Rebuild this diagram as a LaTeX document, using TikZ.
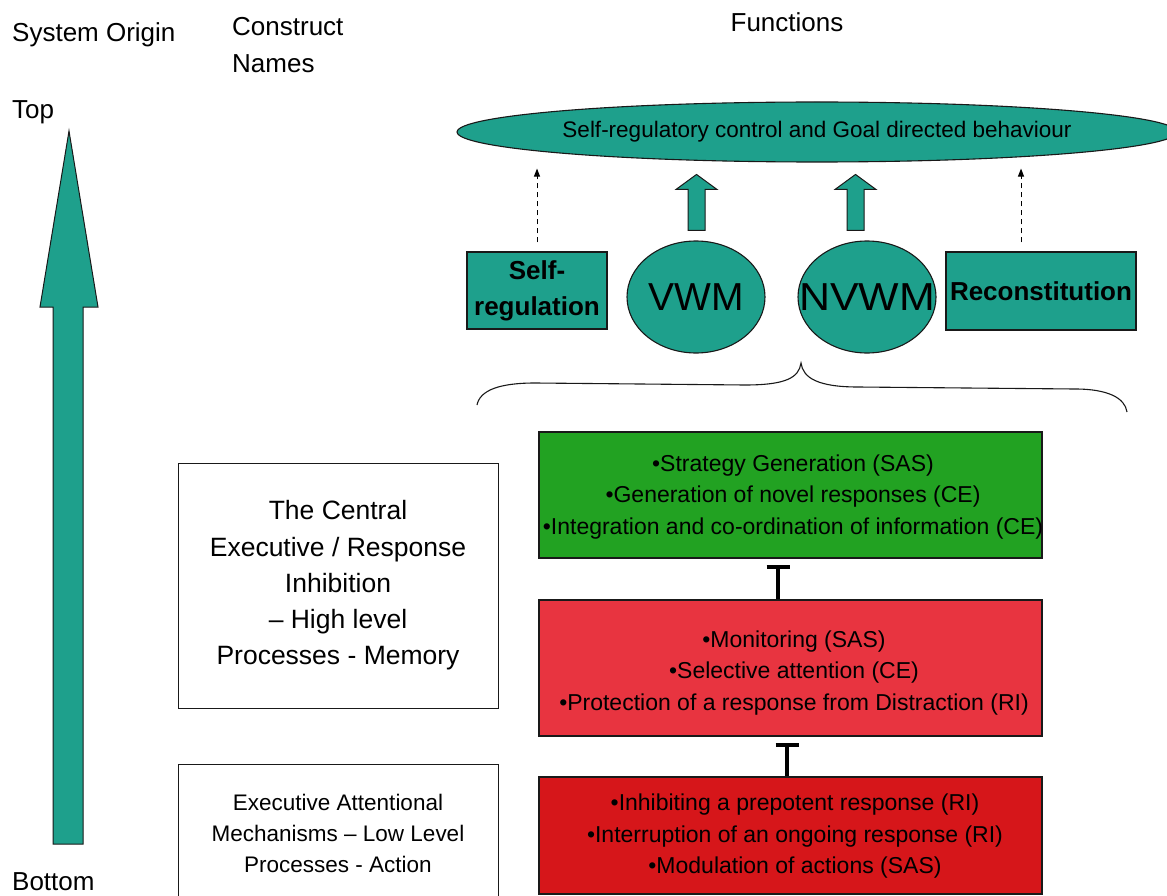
\documentclass[tikz,border=0pt]{standalone}
\usepackage{fontspec}
\setmainfont{Liberation Sans}
\usetikzlibrary{shapes.geometric,arrows.meta,calc}

\definecolor{tealfill}{RGB}{30,160,140}
\definecolor{greenfill}{RGB}{34,162,34}
\definecolor{redfill}{RGB}{232,52,64}
\definecolor{deepred}{RGB}{214,22,26}
\definecolor{edge}{RGB}{25,25,25}

\tikzset{
  fsz/.style={font=\fontsize{#1}{#1}\selectfont},
  heading/.style={font=\fontsize{26}{37}\selectfont, inner sep=0pt},
  funcbox/.style={draw=edge, line width=1.1pt, fill=tealfill, inner sep=0pt,
    font=\fontsize{26}{36}\selectfont\bfseries, align=center},
  memory/.style={ellipse, draw=edge, line width=1.1pt, fill=tealfill, inner sep=0pt,
    minimum width=138pt, minimum height=112pt, font=\fontsize{39}{39}\selectfont},
  procbox/.style={draw=edge, line width=1.1pt, inner sep=0pt, minimum width=503pt},
  proctext/.style={align=center, inner sep=0pt, font=\fontsize{23}{31.5}\selectfont},
  levelbox/.style={draw=edge, line width=0.9pt, fill=white, inner sep=0pt,
    minimum width=320pt},
  blockarrow/.style={draw=edge, line width=1pt, fill=tealfill},
  dasharrow/.style={draw=black, line width=1pt, dash pattern=on 5pt off 4pt,
    -{Triangle[length=8pt,width=6pt]}},
  inhibit/.style={draw=black, line width=3.2pt},
}

\begin{document}
\begin{tikzpicture}[x=1pt,y=-1pt]
  \useasboundingbox (0,0) rectangle (1167,896);

  % column headings
  \node[heading, anchor=west] (origin) at (12,35) {System Origin};
  \node[heading, anchor=north west, align=left] (cnames) at (232,17) {Construct\\Names};
  \node[heading] (functions) at (787,22) {Functions};
  \node[heading, anchor=west] (top) at (12,112) {Top};
  \node[heading, anchor=west] (bottom) at (12,882) {Bottom};

  % vertical bottom-to-top arrow
  \draw[blockarrow] (53,844) -- (53,307) -- (40,307) -- (69,131) -- (98,307)
    -- (83,307) -- (83,844) -- cycle;

  % goal ellipse
  \node[ellipse, draw=edge, line width=1.1pt, fill=tealfill, inner sep=0pt,
    minimum width=712pt, minimum height=60pt, fsz=22.5] (goal) at (817,132)
    {Self-regulatory control and Goal directed behaviour};

  % executive functions
  \node[funcbox, minimum width=140pt, minimum height=77pt] (selfreg) at (537,290.5)
    {Self-\\regulation};
  \node[memory] (vwm) at (696,297) {\makebox[0pt]{VWM}};
  \node[memory] (nvwm) at (867,297) {\makebox[0pt]{\scalebox{1.1}[1]{NVWM}}};
  \node[funcbox, minimum width=190pt, minimum height=78pt] (recon) at (1041,291)
    {Reconstitution};

  % links up to the goal
  \draw[dasharrow, shorten <=9pt, shorten >=6pt]
    (selfreg.north) -- (selfreg.north |- goal.south);
  \draw[dasharrow, shorten <=9pt, shorten >=6pt]
    ([xshift=-20pt]recon.north) -- ([xshift=-20pt]recon.north |- goal.south);
  \draw[blockarrow] ($(vwm.north)+(-8,-10)$) -- ++(0,-41) -- ++(-12,0)
    -- ++(20.5,-15) -- ++(20.5,15) -- ++(-12,0) -- ++(0,41) -- cycle;
  \draw[blockarrow] ($(nvwm.north)+(-20,-10)$) -- ++(0,-41) -- ++(-12,0)
    -- ++(20.5,-15) -- ++(20.5,15) -- ++(-12,0) -- ++(0,41) -- cycle;

  % brace grouping the functions
  \coordinate (bracetip) at (801,363);
  \draw[line width=1.1pt, edge]
    (477,405) .. controls (480,390) and (500,383) .. (535,383)
    -- (745,385) .. controls (785,385) and (799,378) .. (bracetip)
    .. controls (803,378) and (818,387) .. (858,387)
    -- (1075,389) .. controls (1108,389) and (1125,398) .. (1127,412);

  % process levels
  \node[procbox, fill=greenfill, minimum height=126pt] (strategy) at (790.5,495) {};
  \node[proctext] (strategytxt) at (793,497)
    {•Strategy Generation (SAS)\\
     •Generation of novel responses (CE)\\
     •Integration and co-ordination of information (CE)};
  \node[procbox, fill=redfill, minimum height=136pt] (monitor) at (790.5,668) {};
  \node[proctext] (monitortxt) at (794,673)
    {•Monitoring (SAS)\\
     •Selective attention (CE)\\
     •Protection of a response from Distraction (RI)};
  \node[procbox, fill=deepred, minimum height=117pt] (action) at (790.5,835.5) {};
  \node[proctext] (actiontxt) at (795,836.5)
    {•Inhibiting a prepotent response (RI)\\
     •Interruption of an ongoing response (RI)\\
     •Modulation of actions (SAS)};

  % inhibitory links between levels
  \coordinate (bar1) at (778,567);
  \coordinate (bar2) at (787,745);
  \draw[inhibit] (monitor.north -| bar1) -- (bar1);
  \draw[inhibit] ([xshift=-11.5pt]bar1) -- ([xshift=11.5pt]bar1);
  \draw[inhibit] (action.north -| bar2) -- (bar2);
  \draw[inhibit] ([xshift=-11.5pt]bar2) -- ([xshift=11.5pt]bar2);

  % construct names
  \node[levelbox, minimum height=245pt] (highlevel) at (338,585.5) {};
  \node[align=center, inner sep=0pt, font=\fontsize{26.5}{36.3}\selectfont] (hightxt)
    at (highlevel.center)
    {The Central\\Executive / Response\\Inhibition\\– High level\\Processes - Memory};
  \node[levelbox, minimum height=136pt, anchor=north] (lowlevel) at (338,764) {};
  \node[align=center, inner sep=0pt, font=\fontsize{22.5}{31}\selectfont] (lowtxt)
    at (338,833)
    {Executive Attentional\\Mechanisms – Low Level\\Processes - Action};
\end{tikzpicture}
\end{document}
